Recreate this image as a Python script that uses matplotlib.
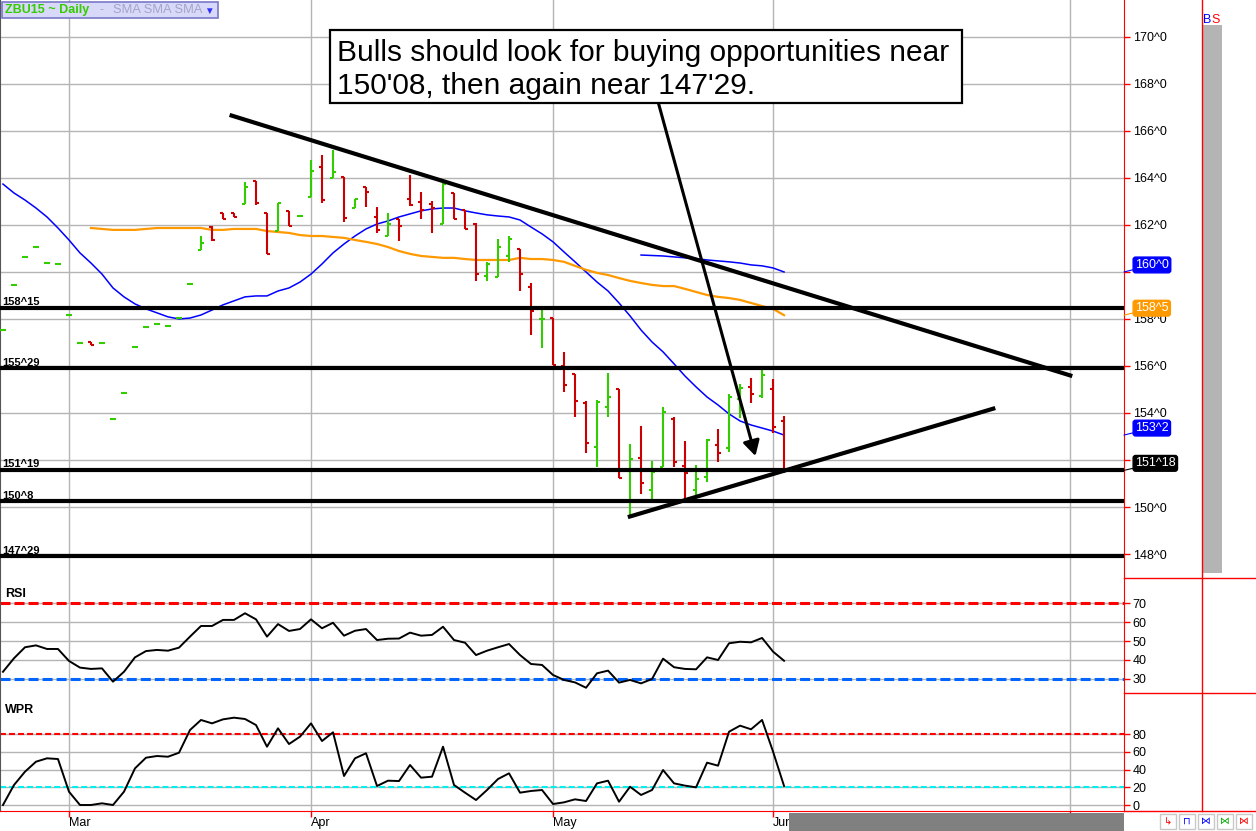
import matplotlib
matplotlib.use("Agg")
import matplotlib.pyplot as plt
import matplotlib.transforms as mtransforms
from matplotlib.lines import Line2D
from matplotlib.patches import Rectangle

plt.rcParams['font.family'] = ['Liberation Sans', 'DejaVu Sans']
plt.rcParams['lines.scale_dashes'] = False

# ---- data ----
opens = [157.53, 159.45, 160.64, 161.06, 160.38, 160.34, 158.17, 156.98, 157.00, 156.98,
         153.74, 154.85, 156.81, 157.66, 157.79, 157.70, 158.04, 159.49, 160.94, 161.92,
         162.51, 162.51, 162.89, 163.87, 162.51, 161.74, 162.60, 162.38, 163.19, 164.47,
         164.00, 164.04, 162.72, 163.62, 162.34, 161.53, 162.26, 163.11, 162.98, 162.89,
         162.04, 163.36, 162.64, 162.04, 159.83, 159.79, 160.68, 160.98, 159.36, 158.00,
         158.04, 156.00, 155.66, 154.43, 152.55, 154.26, 155.02, 151.53, 152.09, 150.72,
         151.70, 153.74, 151.74, 150.72, 151.28, 152.64, 152.51, 154.60, 155.11, 154.72,
         155.02, 153.66]
highs = [157.53, 159.45, 160.64, 161.06, 160.38, 160.34, 158.17, 156.98, 157.00, 156.98,
         153.74, 154.85, 156.81, 157.66, 157.79, 157.70, 158.04, 159.49, 161.53, 161.96,
         162.51, 162.51, 163.83, 163.87, 162.51, 162.94, 162.60, 162.38, 164.77, 164.98,
         165.19, 164.04, 163.11, 163.62, 162.77, 162.51, 162.26, 164.13, 163.40, 163.02,
         163.96, 163.36, 162.64, 162.09, 160.43, 161.40, 161.53, 160.98, 159.53, 158.43,
         158.04, 156.60, 155.66, 154.51, 154.55, 155.70, 155.02, 152.68, 153.45, 151.96,
         154.26, 153.83, 152.81, 151.79, 152.89, 153.32, 154.81, 155.23, 155.49, 155.87,
         155.45, 153.87]
lows = [157.53, 159.45, 160.64, 161.06, 160.38, 160.34, 158.17, 156.98, 156.90, 156.98,
        153.74, 154.85, 156.81, 157.66, 157.79, 157.70, 158.04, 159.49, 160.94, 161.32,
        162.26, 162.34, 162.89, 162.85, 160.77, 161.74, 161.96, 162.38, 163.19, 162.94,
        164.00, 162.13, 162.72, 162.77, 161.66, 161.53, 161.32, 162.81, 162.26, 161.66,
        162.04, 162.26, 161.83, 159.62, 159.62, 159.79, 160.43, 159.19, 157.32, 156.77,
        156.04, 154.89, 153.83, 152.30, 151.70, 153.83, 151.23, 149.53, 150.55, 150.34,
        151.70, 151.70, 150.34, 150.43, 151.06, 151.91, 152.34, 153.79, 154.43, 154.64,
        153.15, 151.45]
closes = [157.53, 159.45, 160.64, 161.06, 160.38, 160.34, 158.17, 156.98, 156.90, 156.98,
          153.74, 154.85, 156.81, 157.66, 157.79, 157.70, 158.04, 159.49, 161.23, 161.36,
          162.26, 162.34, 163.62, 162.94, 160.77, 162.94, 161.96, 162.38, 164.30, 163.06,
          164.26, 162.30, 163.11, 163.40, 161.79, 162.04, 161.96, 162.85, 162.64, 162.72,
          163.74, 162.26, 161.83, 159.91, 160.34, 161.06, 161.40, 159.91, 158.34, 158.00,
          156.04, 155.19, 154.51, 152.72, 154.47, 154.68, 151.23, 152.04, 151.02, 151.49,
          154.04, 151.91, 151.45, 151.19, 152.85, 152.30, 154.68, 155.06, 154.81, 155.62,
          153.40, 151.56]

sma_fast = [163.74, 163.36, 163.06, 162.72, 162.34, 161.87, 161.36, 160.81, 160.38, 159.91,
            159.32, 158.94, 158.64, 158.43, 158.26, 158.09, 158.00, 158.04, 158.17, 158.38,
            158.60, 158.77, 158.94, 158.98, 158.98, 159.19, 159.32, 159.57, 159.91, 160.34,
            160.81, 161.19, 161.53, 161.83, 162.04, 162.17, 162.34, 162.47, 162.60, 162.68,
            162.72, 162.72, 162.60, 162.51, 162.43, 162.38, 162.34, 162.21, 161.91, 161.62,
            161.28, 160.85, 160.43, 160.00, 159.57, 159.19, 158.68, 158.13, 157.53, 157.02,
            156.60, 156.09, 155.57, 155.11, 154.68, 154.34, 153.96, 153.66, 153.49, 153.36,
            153.23, 153.06]
sma_mid_start = 8
sma_mid = [161.87, 161.83, 161.79, 161.79, 161.79, 161.83, 161.87, 161.87, 161.87, 161.87,
           161.87, 161.79, 161.79, 161.83, 161.83, 161.83, 161.74, 161.70, 161.66, 161.57,
           161.53, 161.53, 161.49, 161.45, 161.36, 161.28, 161.19, 161.06, 160.89, 160.77,
           160.68, 160.64, 160.60, 160.60, 160.55, 160.51, 160.51, 160.51, 160.51, 160.60,
           160.55, 160.55, 160.51, 160.43, 160.26, 160.09, 159.96, 159.87, 159.74, 159.62,
           159.53, 159.45, 159.40, 159.40, 159.28, 159.15, 159.02, 158.94, 158.89, 158.81,
           158.68, 158.55, 158.43, 158.16]
sma_slow_start = 58
sma_slow = [160.72, 160.70, 160.68, 160.64, 160.60, 160.57, 160.51, 160.47, 160.43, 160.38,
            160.30, 160.26, 160.17, 160.00]

rsi = [33.8, 40.9, 46.7, 47.7, 45.8, 45.8, 39.5, 36.0, 35.3, 35.6,
       28.6, 33.8, 41.4, 44.7, 45.3, 44.9, 46.5, 52.3, 57.9, 57.9,
       61.1, 61.1, 64.6, 61.4, 52.3, 58.9, 55.3, 56.3, 61.4, 56.7,
       59.6, 52.8, 55.4, 56.3, 50.5, 51.2, 51.3, 54.4, 52.8, 53.2,
       57.5, 50.5, 49.1, 42.6, 44.9, 46.7, 48.4, 42.6, 37.9, 37.4,
       32.1, 29.5, 28.2, 25.4, 33.0, 34.4, 28.1, 29.5, 27.7, 30.0,
       40.7, 36.2, 35.3, 35.1, 41.4, 40.0, 48.8, 49.6, 49.3, 51.6,
       44.4, 39.6]
wpr = [0.0, 22.5, 37.5, 48.8, 52.6, 51.8, 15.0, 0.0, 0.0, 1.9,
       0.0, 15.0, 41.3, 53.3, 55.2, 54.4, 58.9, 84.5, 95.8, 92.0,
       96.5, 98.4, 96.9, 90.1, 65.7, 86.4, 68.7, 77.0, 92.0, 72.1,
       81.9, 32.7, 52.6, 58.3, 21.4, 27.4, 27.0, 45.1, 30.8, 31.9,
       65.7, 22.5, 13.9, 5.6, 16.9, 29.3, 35.7, 13.9, 15.8, 16.9,
       1.1, 3.0, 6.4, 4.5, 24.4, 27.4, 3.7, 20.6, 11.3, 16.9,
       39.4, 24.4, 21.8, 19.9, 47.7, 44.3, 82.6, 89.4, 85.3, 95.8,
       60.1, 21.4]

month_pos = [6, 28, 50, 70, 97]
month_labels = ["Mar", "Apr", "May", "Jun", "Jul"]

levels = [158.469, 155.906, 151.594, 150.25, 147.906]
level_labels = ["158^15", "155^29", "151^19", "150^8", "147^29"]

resist_x = [20.6, 97.2]
resist_y = [166.68, 155.57]
support_x = [56.8, 90.2]
support_y = [149.57, 154.21]
arrow_from = (59.5, 167.32)
arrow_to = (68.4, 152.17)

price_ticks = list(range(148, 171, 2))
hidden_ticks = [160]   # covered by the 160^0 value box
last_labels = [(160.0, "160^0", "#0000ff"), (158.16, "158^5", "#ff9900"),
               (153.06, "153^2", "#0000ff"), (151.56, "151^18", "#000000")]

note = ["Bulls should look for buying opportunities near",
        "150'08, then again near 147'29."]

# ---- layout helpers (pixels of the 1256x831 image) ----
W, H = 1256, 831


def px_rect(x0, y0, x1, y1):
    return [x0 / W, 1 - y1 / H, (x1 - x0) / W, (y1 - y0) / H]


def fx(x):
    return x / W


def fy(y):
    return 1 - y / H


fig = plt.figure(figsize=(12.56, 8.31), dpi=100)
ax = fig.add_axes(px_rect(0, 0, 1124, 578))
ax_rsi = fig.add_axes(px_rect(0, 578, 1124, 693))
ax_wpr = fig.add_axes(px_rect(0, 693, 1124, 811))

grid_col = "#b4b4b4"
red = "#ff0000"
xlim = (-0.27, 101.9)

for a in (ax, ax_rsi, ax_wpr):
    a.set_xlim(*xlim)
    a.set_xticks(month_pos)
    a.grid(True, color=grid_col, lw=1)
    a.set_axisbelow(True)
    a.yaxis.set_ticks_position("right")
    a.tick_params(axis="y", direction="out", length=4.3, width=1, color=red,
                  labelcolor="black", labelsize=9, pad=2)
    a.spines["top"].set_visible(False)
    a.spines["bottom"].set_visible(False)
    a.spines["right"].set_color(red)
    a.spines["left"].set_color("#555555")
for a in (ax, ax_rsi):
    a.tick_params(axis="x", bottom=False, labelbottom=False)

# ---- price panel ----
ax.set_ylim(146.98, 171.57)
ax.set_yticks(price_ticks)
ax.set_yticklabels(["" if v in hidden_ticks else f"{v}^0" for v in price_ticks])

xs = list(range(len(closes)))
cols = ["#33cc00" if c >= o else "#cc0000" for o, c in zip(opens, closes)]
ax.vlines(xs, lows, highs, colors=cols, lw=1.5, zorder=3)
ax.hlines(opens, [x - 0.27 for x in xs], xs, colors=cols, lw=1.5, zorder=3)
ax.hlines(closes, xs, [x + 0.27 for x in xs], colors=cols, lw=1.5, zorder=3)

ax.plot(xs, sma_fast, color="#0000ff", lw=1.1, zorder=2)
ax.plot(xs[sma_mid_start:], sma_mid, color="#ff9900", lw=1.6, zorder=2)
ax.plot(xs[sma_slow_start:], sma_slow, color="#0000ff", lw=1.1, zorder=2)

lab_tr = mtransforms.offset_copy(ax.get_yaxis_transform(), fig=fig, x=2, y=2.5, units="dots")
for lv, lb in zip(levels, level_labels):
    ax.axhline(lv, color="black", lw=3, zorder=4)
    ax.text(0, lv, lb, transform=lab_tr, fontsize=8, fontweight="bold", va="baseline", zorder=4)

ax.plot(resist_x, resist_y, color="black", lw=3, solid_capstyle="butt", zorder=4)
ax.plot(support_x, support_y, color="black", lw=3, solid_capstyle="butt", zorder=4)
ax.annotate("", xy=arrow_to, xytext=arrow_from,
            arrowprops=dict(arrowstyle="-|>,head_length=0.9,head_width=0.5", mutation_scale=10,
                            lw=2.2, color="black", shrinkA=0, shrinkB=0), zorder=6)

# note box
ax.add_patch(Rectangle((330 / 1124, 1 - 103 / 578), 632 / 1124, 73 / 578, transform=ax.transAxes,
                       facecolor="white", edgecolor="black", lw=1.6, zorder=7))
ax.text(337 / 1124, 1 - 61 / 578, note[0], transform=ax.transAxes, fontsize=21.5, va="baseline", zorder=8)
ax.text(337 / 1124, 1 - 94 / 578, note[1], transform=ax.transAxes, fontsize=21.5, va="baseline", zorder=8)

# last value boxes on the price scale
for val, txt, c in last_labels:
    ax.annotate(txt, xy=(1.0, val), xycoords=ax.get_yaxis_transform(),
                xytext=(11, 7), textcoords="offset pixels", ha="left", va="center",
                color="white", fontsize=9, annotation_clip=False, zorder=10,
                bbox=dict(boxstyle="round,pad=0.15,rounding_size=0.2", fc=c, ec=c),
                arrowprops=dict(arrowstyle="-", color=c, lw=0.8, shrinkA=0, shrinkB=0))

# ---- RSI panel ----
ax_rsi.set_ylim(22.63, 83.16)
ax_rsi.set_yticks([30, 40, 50, 60, 70])
ax_rsi.axhline(70, color=red, lw=2.2, dashes=(7.2, 2.9))
ax_rsi.axhline(30, color="#0066ff", lw=2.2, dashes=(7.2, 2.9))
ax_rsi.plot(xs, rsi, color="black", lw=1.4)
ax_rsi.text(5 / 1124, 0.86, "RSI", transform=ax_rsi.transAxes, fontsize=9, fontweight="bold", va="center")

# ---- WPR panel ----
ax_wpr.set_ylim(-6.76, 126.2)
ax_wpr.set_yticks([0, 20, 40, 60, 80])
ax_wpr.axhline(80, color=red, lw=1.5, dashes=(4.3, 2.2))
ax_wpr.axhline(20, color="#00f0f0", lw=1.5, dashes=(4.3, 2.2))
ax_wpr.plot(xs, wpr, color="black", lw=1.4)
ax_wpr.text(5 / 1124, 0.86, "WPR", transform=ax_wpr.transAxes, fontsize=9, fontweight="bold", va="center")
ax_wpr.spines["bottom"].set_visible(True)
ax_wpr.spines["bottom"].set_color(red)
ax_wpr.set_xticklabels(month_labels)
ax_wpr.tick_params(axis="x", direction="out", length=4.3, width=1, color=red, labelsize=9, pad=0)
for t in ax_wpr.get_xticklabels():
    t.set_ha("left")

# ---- frame decorations on the right / bottom ----
for (x0, y0, x1, y1) in [(1202, 0, 1202, 811), (1124, 578, 1256, 578),
                         (1124, 693, 1256, 693), (1124, 811, 1256, 811)]:
    fig.add_artist(Line2D([fx(x0), fx(x1)], [fy(y0), fy(y1)], color=red, lw=1))

fig.add_artist(Rectangle((fx(1203), fy(573)), (1222 - 1203) / W, (573 - 25) / H,
                         transform=fig.transFigure, facecolor="#b4b4b4", edgecolor="none"))
fig.text(fx(1203), fy(23), "B", color="#0000ff", fontsize=9, va="baseline")
fig.text(fx(1211), fy(23), "S", color=red, fontsize=9, va="baseline")

# title tag in the top-left corner
fig.add_artist(Rectangle((fx(2), fy(18)), 216 / W, 16 / H, transform=fig.transFigure,
                         facecolor="#d8d8f8", edgecolor="#7878c8", lw=1.2))
fig.text(fx(5), fy(10), "ZBU15 ~ Daily", color="#33cc00", fontsize=9, fontweight="bold", va="center")
fig.text(fx(100), fy(10), "-", color="#a4a4cc", fontsize=9, va="center")
fig.text(fx(113), fy(10), "SMA SMA SMA", color="#a4a4cc", fontsize=9.3, va="center")
fig.text(fx(204), fy(11), "▼", color="#3030ff", fontsize=7, va="center")

# scrollbar and small buttons along the bottom
fig.add_artist(Rectangle((fx(789), 0), (1124 - 789) / W, 18 / H, transform=fig.transFigure,
                         facecolor="#808080", edgecolor="none"))
buttons = [(1160, "↳", red), (1179, "⊓", "#0000ff"), (1198, "⋈", "#0000ff"),
           (1217, "⋈", "#00aa00"), (1236, "⋈", red)]
for bx, sym, c in buttons:
    fig.add_artist(Rectangle((fx(bx), fy(829)), 16 / W, 15 / H, transform=fig.transFigure,
                             facecolor="white", edgecolor="#c8c8c8", lw=1))
    fig.text(fx(bx + 8), fy(821), sym, color=c, fontsize=7, ha="center", va="center")

fig.savefig("out.png", dpi=100)
